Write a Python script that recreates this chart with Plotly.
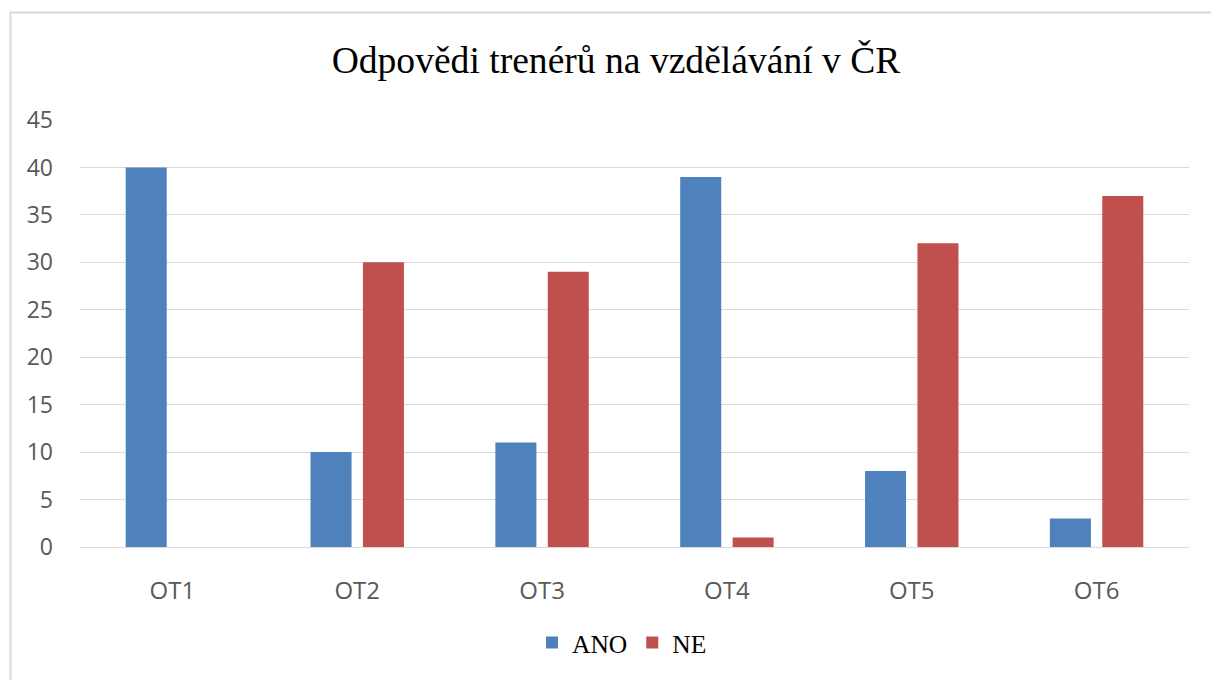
import plotly.graph_objects as go

categories = ["OT1", "OT2", "OT3", "OT4", "OT5", "OT6"]
ano_values = [40, 10, 11, 39, 8, 3]
ne_values = [0, 30, 29, 1, 32, 37]
y_ticks = [0, 5, 10, 15, 20, 25, 30, 35, 40, 45]

W, H = 1211, 680
L, R, T, B = 80, 22, 120, 133
pw, ph = W - L - R, H - T - B

def px_x(p):
    return (p - L) / pw

def px_y(p):
    return (H - B - p) / ph

fig = go.Figure()
fig.add_trace(go.Bar(name="ANO", x=categories, y=ano_values,
                     marker=dict(color="#4F81BD", line=dict(width=0))))
fig.add_trace(go.Bar(name="NE", x=categories, y=ne_values,
                     marker=dict(color="#C0504D", line=dict(width=0))))

fig.update_layout(
    width=W, height=H,
    margin=dict(l=L, r=R, t=T, b=B, autoexpand=False),
    paper_bgcolor="white", plot_bgcolor="white",
    barmode="group", bargap=0.433, bargroupgap=0.217,
    title=dict(text="Odpovědi trenérů na vzdělávání v ČR",
               font=dict(family="Liberation Serif", size=37.6, color="black"),
               x=616 / W, xref="container", xanchor="center",
               y=1 - 60 / H, yref="container", yanchor="middle"),
    legend=dict(orientation="h", x=px_x(622), xanchor="center",
                y=px_y(643), yanchor="middle",
                font=dict(family="Liberation Serif", size=25.5, color="black"),
                bgcolor="rgba(0,0,0,0)"),
    xaxis=dict(showgrid=False, showline=True, linecolor="#D9D9D9", linewidth=1,
               ticks="", ticklabelstandoff=22,
               tickfont=dict(family="Open Sans", size=24, color="#595959")),
    yaxis=dict(range=[0, 45], tickvals=y_ticks, showgrid=True,
               gridcolor="#D9D9D9", gridwidth=1, zeroline=False, showline=False,
               ticks="", ticklabelstandoff=26,
               tickfont=dict(family="Open Sans", size=23, color="#595959")),
    shapes=[dict(type="rect", xref="paper", yref="paper",
                 x0=px_x(10.5), x1=px_x(1215), y0=px_y(685), y1=px_y(12.5),
                 line=dict(color="#D9D9D9", width=2), fillcolor="rgba(0,0,0,0)",
                 layer="below")],
)

fig.write_html("out.html", config={"displayModeBar": False},
               post_script="document.body.style.margin='0';document.body.style.overflow='hidden';")
